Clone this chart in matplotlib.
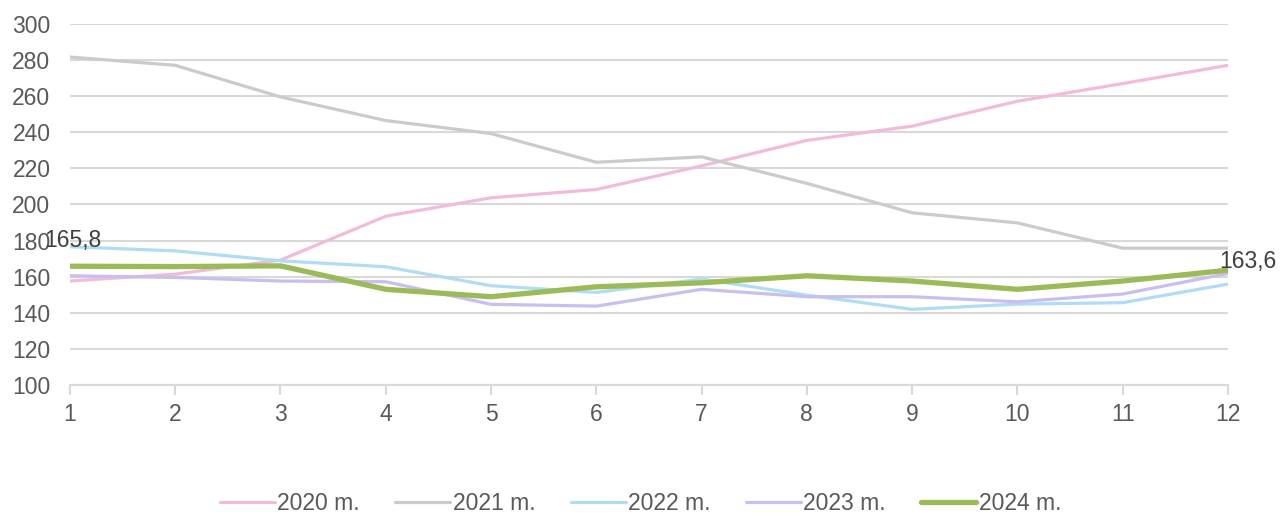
import matplotlib.pyplot as plt

plt.rcParams["font.family"] = ["Liberation Sans", "DejaVu Sans"]

months = list(range(1, 13))
v2020 = [157.6, 161.4, 169.2, 193.5, 203.7, 208.3, 221.4, 235.5, 243.4, 257.2, 267.0, 277.1]
v2021 = [281.7, 277.1, 259.6, 246.5, 239.3, 223.4, 226.4, 211.7, 195.4, 189.8, 175.8, 175.8]
v2022 = [176.6, 174.3, 168.8, 165.5, 155.0, 151.3, 158.7, 149.8, 141.9, 144.8, 145.6, 155.9]
v2023 = [160.5, 159.6, 157.6, 157.2, 144.7, 143.7, 153.0, 148.9, 148.9, 146.1, 150.4, 161.8]
v2024 = [165.8, 165.6, 166.0, 153.0, 148.9, 154.4, 156.6, 160.5, 157.6, 153.0, 157.6, 163.6]
labels = ["2020 m.", "2021 m.", "2022 m.", "2023 m.", "2024 m."]

text_c = "#595959"
grid_c = "#d9d9d9"
fs = 16.5

fig = plt.figure(figsize=(12.81, 5.16), dpi=100)
ax = fig.add_axes([0.0546, 0.2539, 0.9040, 0.6996])

series = [v2020, v2021, v2022, v2023, v2024]
colors = ["#f2bcd9", "#cbcbcb", "#b0dcf4", "#c8bff0", "#9bbb59"]
widths = [2.3, 2.3, 2.3, 2.3, 3.8]
for vals, c, w, lab in zip(series, colors, widths, labels):
    ax.plot(months, vals, color=c, lw=w, label=lab, solid_capstyle="round", zorder=3)

# data labels on first and last point of 2024, as in the original
ax.annotate("165,8", (months[0], v2024[0]), xytext=(2, 10), textcoords="offset points",
            ha="center", va="bottom", fontsize=fs, color="#404040", zorder=4)
ax.annotate("163,6", (months[-1], v2024[-1]), xytext=(-6, -2), textcoords="offset points",
            ha="left", va="bottom", fontsize=fs, color="#404040", zorder=4)

ax.set_xlim(1, 12)
ax.set_ylim(100, 300)
ax.set_xticks(months)
ax.set_yticks(range(100, 301, 20))
ax.yaxis.grid(True, color=grid_c, lw=1.5)
ax.set_axisbelow(True)
for s in ["top", "right", "left"]:
    ax.spines[s].set_visible(False)
ax.spines["bottom"].set_color(grid_c)
ax.spines["bottom"].set_linewidth(1.5)
ax.tick_params(axis="x", colors=grid_c, length=7, width=1.5, labelcolor=text_c, labelsize=fs, pad=6)
ax.tick_params(axis="y", length=0, labelcolor=text_c, labelsize=fs, pad=14)

fig.legend(loc="lower center", bbox_to_anchor=(0.5, -0.038), ncol=5, frameon=False,
           fontsize=fs, labelcolor=text_c, handlelength=2.4, handletextpad=0.1,
           columnspacing=1.55)

fig.savefig("out.png", dpi=100)
